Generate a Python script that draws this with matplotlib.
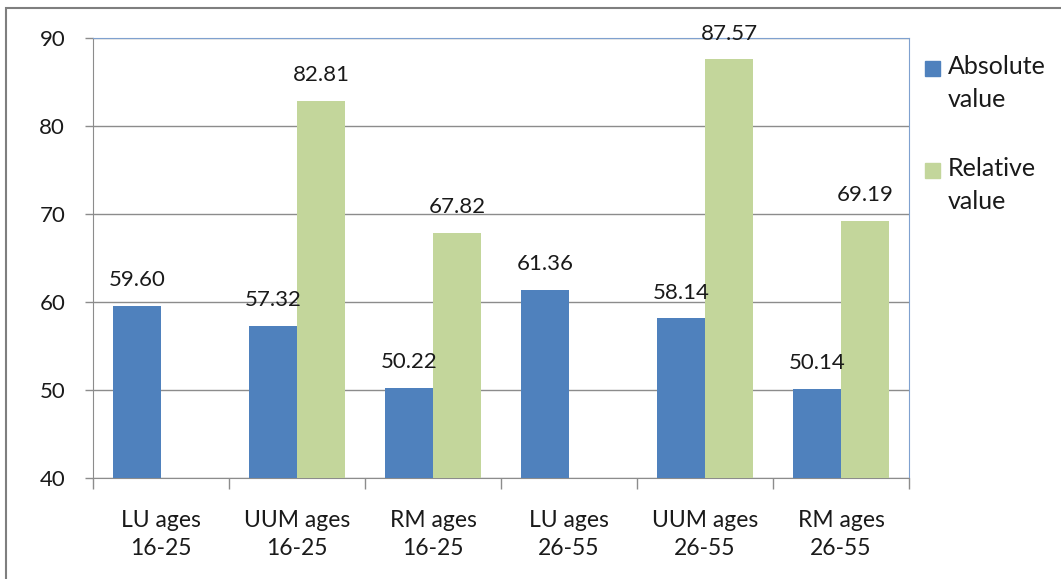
import numpy as np
import matplotlib.pyplot as plt
from matplotlib.patches import Rectangle

categories = ["LU ages\n16-25", "UUM ages\n16-25", "RM ages\n16-25",
              "LU ages\n26-55", "UUM ages\n26-55", "RM ages\n26-55"]
absolute_vals = [59.60, 57.32, 50.22, 61.36, 58.14, 50.14]
relative_vals = [np.nan, 82.81, 67.82, np.nan, 87.57, 69.19]
series_names = ["Absolute\nvalue", "Relative\nvalue"]
y_ticks = [40, 50, 60, 70, 80, 90]

blue = "#4F81BD"
green = "#C3D69B"
grid_gray = "#8C8C8C"
txt = "#1A1A1A"

plt.rcParams['font.family'] = ['Lato', 'DejaVu Sans']

W, H = 1061, 579
fig = plt.figure(figsize=(W / 100, H / 100), dpi=100)
ax = fig.add_axes([93 / W, 1 - 478 / H, (909 - 93) / W, (478 - 38) / H])

# outer chart frame, runs off the right and bottom edges
fig.patches.append(Rectangle((6 / W, -0.1), 1.2, 1 - 8 / H + 0.1, transform=fig.transFigure,
                             fill=False, edgecolor="#7F7F7F", linewidth=1.5))

x = np.arange(len(categories))
bw = 0.353
ax.bar(x - bw / 2, absolute_vals, bw, color=blue, zorder=3)
ax.bar(x + bw / 2, relative_vals, bw, color=green, zorder=3)

ax.set_xlim(-0.5, len(categories) - 0.5)
ax.set_ylim(40, 90)
ax.set_yticks(y_ticks)
ax.yaxis.grid(True, color=grid_gray, linewidth=1, zorder=0)

ax.set_xticks(np.arange(len(categories) + 1) - 0.5)
ax.set_xticklabels([])
ax.tick_params(axis='x', length=8, color=grid_gray, width=1, direction='out')
ax.tick_params(axis='y', length=6, color=grid_gray, width=1, direction='out', pad=14,
               labelsize=16, labelcolor=txt)

for i, cat in enumerate(categories):
    ax.text(i, 36.4, cat, ha='center', va='top', fontsize=16.5, color=txt,
            linespacing=1.45, clip_on=False)

for spine in ("left", "bottom"):
    ax.spines[spine].set_color(grid_gray)
for spine in ("top", "right"):
    ax.spines[spine].set_color("#7FA1CF")

for i in range(len(categories)):
    ax.text(x[i] - bw / 2, absolute_vals[i] + 1.8, f"{absolute_vals[i]:.2f}",
            ha='center', va='bottom', fontsize=16, color=txt)
    if not np.isnan(relative_vals[i]):
        ax.text(x[i] + bw / 2, relative_vals[i] + 1.8, f"{relative_vals[i]:.2f}",
                ha='center', va='bottom', fontsize=16, color=txt)

# legend drawn by hand to keep the two-line entries spaced apart
for name, col, y in zip(series_names, [blue, green], [68, 170]):
    fig.patches.append(Rectangle((925 / W, 1 - (y + 8) / H), 15 / W, 15 / H,
                                 transform=fig.transFigure, color=col))
    fig.text(948 / W, 1 - (y - 13) / H, name, ha='left', va='top', fontsize=18,
             color=txt, linespacing=1.55)

fig.savefig("out.png", dpi=100, facecolor="white")
